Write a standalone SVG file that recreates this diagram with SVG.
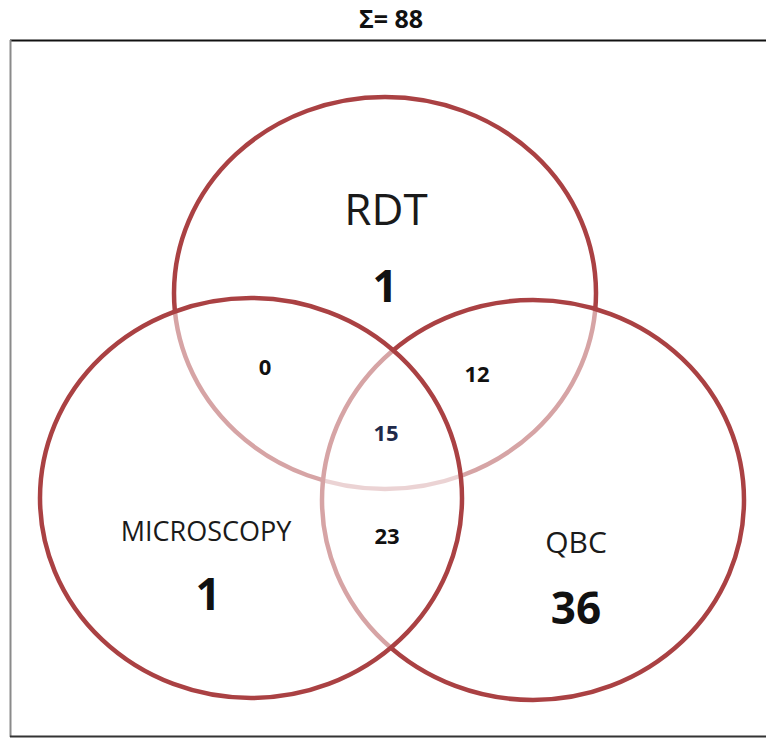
<svg xmlns="http://www.w3.org/2000/svg" width="766" height="738" viewBox="0 0 766 738">
  <style>
    .set { fill: #ffffff; fill-opacity: 0.52; stroke: #aa4143; stroke-width: 4.5; }
    .name { font-family: "Open Sans", "Liberation Sans", sans-serif; fill: #1a1a1a; text-anchor: middle; }
    .big { font-family: "Open Sans", "Liberation Sans", sans-serif; font-weight: bold; fill: #111111; text-anchor: middle; font-size: 44px; }
    .mid { font-family: "Open Sans", "Liberation Sans", sans-serif; font-weight: bold; fill: #111111; text-anchor: middle; font-size: 22px; }
  </style>
  <rect width="766" height="738" fill="#ffffff"/>

  <!-- total -->
  <text id="total" x="391" y="28" class="big" style="font-size:25px">Σ= 88</text>

  <!-- chart frame -->
  <g id="frame" fill="none">
    <line x1="10" y1="40.5" x2="766" y2="40.5" stroke="#111111" stroke-width="2"/>
    <line x1="10.5" y1="40" x2="10.5" y2="737" stroke="#8a8a8a" stroke-width="2"/>
    <line x1="10" y1="736.5" x2="766" y2="736.5" stroke="#333333" stroke-width="2"/>
  </g>

  <!-- sets (translucent fills fade the strokes underneath) -->
  <g id="rdt">
    <ellipse class="set" cx="385" cy="293" rx="211" ry="196"/>
  </g>
  <g id="qbc">
    <ellipse class="set" cx="533" cy="500" rx="211" ry="200"/>
  </g>
  <g id="microscopy">
    <ellipse class="set" cx="251" cy="498" rx="211" ry="200"/>
  </g>

  <!-- labels -->
  <g id="rdt-label">
    <text x="386" y="225" class="name" font-size="44">RDT</text>
    <text x="385" y="302" class="big">1</text>
  </g>
  <g id="microscopy-label">
    <text x="206" y="541" class="name" font-size="27">MICROSCOPY</text>
    <text x="208" y="610" class="big">1</text>
  </g>
  <g id="qbc-label">
    <text x="576" y="553" class="name" font-size="30">QBC</text>
    <text x="576" y="624" class="big">36</text>
  </g>
  <g id="overlaps">
    <text x="265" y="375" class="mid">0</text>
    <text x="477" y="382" class="mid">12</text>
    <text x="386" y="441" class="mid" style="fill:#1f2a4a">15</text>
    <text x="387" y="544" class="mid">23</text>
  </g>
</svg>
